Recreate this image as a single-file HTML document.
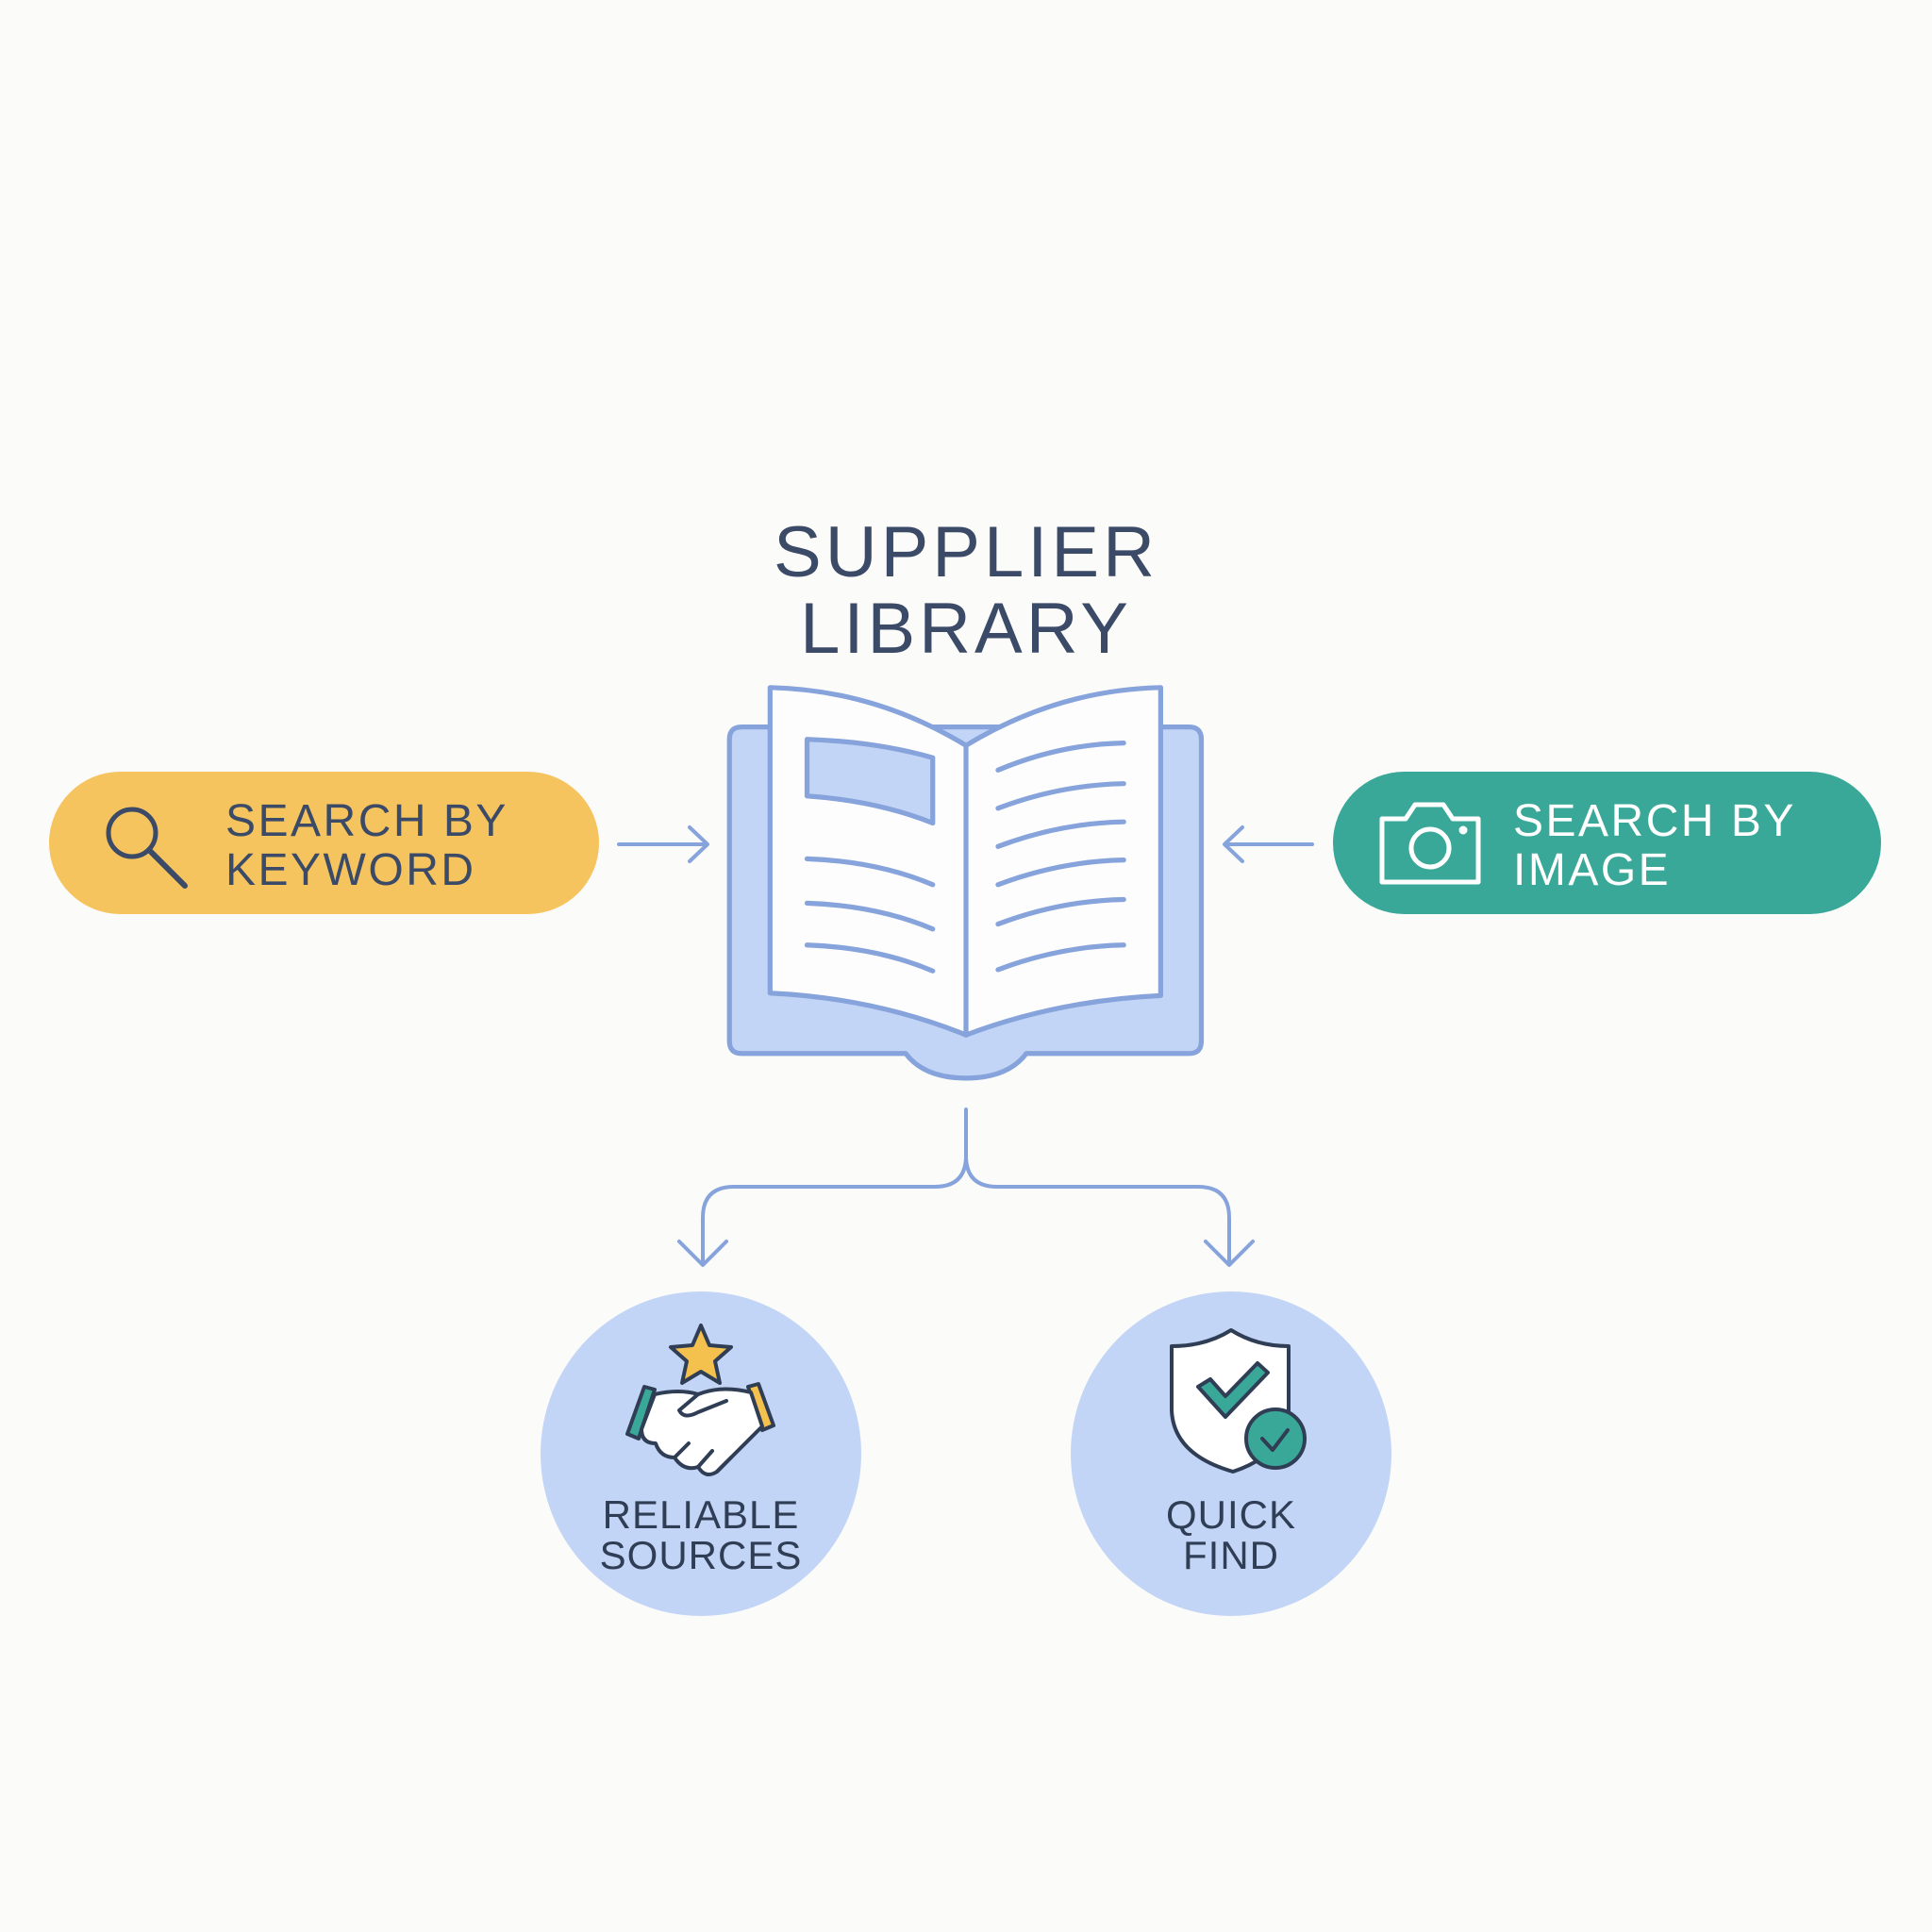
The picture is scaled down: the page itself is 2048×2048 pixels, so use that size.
<!DOCTYPE html>
<html><head><meta charset="utf-8"><style>
html,body{margin:0;padding:0;background:#fbfbf9;}
svg{display:block}
text{font-family:"Liberation Sans",sans-serif;}
</style></head><body>
<svg width="2048" height="2048" viewBox="0 0 2048 2048" xmlns="http://www.w3.org/2000/svg">
<rect width="2048" height="2048" fill="#fbfbf9"/>
<!-- title -->
<text x="1024" y="611" font-size="76" fill="#3b4a66" text-anchor="middle" letter-spacing="4">SUPPLIER</text>
<text x="1024" y="692" font-size="76" fill="#3b4a66" text-anchor="middle" letter-spacing="4">LIBRARY</text>

<!-- book (authored in 1568 display coords) -->
<g transform="scale(1.306122)" stroke="#86a3dc" stroke-width="4" stroke-linejoin="round" stroke-linecap="round">
<path d="M602 590 H965 Q975 590 975 600 V845 Q975 855 965 855 H833 Q818 875 784 875 Q750 875 735 855 H602 Q592 855 592 845 V600 Q592 590 602 590 Z" fill="#c3d5f6"/>
<path d="M625 558 Q710 560 784 605 Q858 560 942 558 V808 Q858 812 784 840 Q710 810 625 806 Z" fill="#fdfdfd"/>
<path d="M784 605 V840" fill="none"/>
<path d="M655 600 Q712 602 757 615 V668 Q712 650 655 646 Z" fill="#c3d5f6"/>
<g fill="none" stroke-width="4">
<path d="M655 697 Q712 699 757 718"/>
<path d="M655 733 Q712 735 757 754"/>
<path d="M655 767 Q712 769 757 788"/>
<path d="M810 625 Q860 604 912 603"/>
<path d="M810 656 Q860 637 912 636"/>
<path d="M810 687 Q860 668 912 667"/>
<path d="M810 718 Q860 699 912 698"/>
<path d="M810 750 Q860 731 912 730"/>
<path d="M810 787 Q860 768 912 767"/>
</g>
</g>

<!-- left pill -->
<rect x="52" y="818" width="583" height="151" rx="75.5" fill="#f6c45e"/>
<circle cx="140" cy="883" r="25" fill="none" stroke="#3b4a66" stroke-width="5"/>
<line x1="158" y1="901" x2="196" y2="939" stroke="#3b4a66" stroke-width="6" stroke-linecap="round"/>
<text x="239" y="886" font-size="48" fill="#3b4a66" letter-spacing="2.5">SEARCH BY</text>
<text x="239" y="938" font-size="48" fill="#3b4a66" letter-spacing="2.5">KEYWORD</text>

<!-- right pill -->
<rect x="1413" y="818" width="581" height="151" rx="75.5" fill="#3aa898"/>
<g fill="none" stroke="#ffffff" stroke-width="5" stroke-linejoin="round">
<path d="M1465 868 H1490 L1500 853 H1530 L1540 868 H1567 V935 H1465 Z"/>
<circle cx="1516" cy="899" r="20"/>
<circle cx="1551" cy="880" r="2" fill="#fff"/>
</g>
<text x="1604" y="886" font-size="48" fill="#ffffff" letter-spacing="2.5">SEARCH BY</text>
<text x="1604" y="938" font-size="48" fill="#ffffff" letter-spacing="2.5">IMAGE</text>

<!-- arrows -->
<g fill="none" stroke="#86a3dc" stroke-width="4" stroke-linecap="round" stroke-linejoin="round">
<path d="M656 895 H749 M731 877 L750 895 L731 913"/>
<path d="M1391 895 H1299 M1317 877 L1298 895 L1317 913"/>
<path d="M1024 1176 V1225 Q1024 1258 991 1258 H778 Q745 1258 745 1291 V1340"/>
<path d="M1024 1225 Q1024 1258 1057 1258 H1270 Q1303 1258 1303 1291 V1340"/>
<path d="M720 1316 L745 1341 L770 1316"/>
<path d="M1278 1316 L1303 1341 L1328 1316"/>
</g>

<!-- circles -->
<ellipse cx="743" cy="1541" rx="170" ry="172" fill="#c3d5f6"/>
<ellipse cx="1305" cy="1541" rx="170" ry="172" fill="#c3d5f6"/>

<!-- star -->
<polygon points="743,1405 752,1426 775,1428 758,1443 763,1466 743,1454 723,1466 728,1443 711,1428 734,1426" fill="#f4c04e" stroke="#2f3d55" stroke-width="4" stroke-linejoin="round"/>
<!-- handshake -->
<g stroke="#2f3d55" stroke-width="4" stroke-linejoin="round" stroke-linecap="round">
<polygon points="683,1470 694,1473 677,1525 665,1520" fill="#3aa898"/>
<polygon points="793,1470 804,1467 820,1511 808,1516" fill="#f4c04e"/>
<path d="M694 1478 Q720 1472 740 1478 Q765 1468 796 1476 L808 1512 Q790 1530 775 1545 L760 1560 Q748 1568 740 1555 Q725 1560 715 1545 Q700 1545 695 1530 Q680 1530 680 1515 Z" fill="#ffffff"/>
<path d="M740 1478 L720 1495 Q725 1505 740 1497 L770 1485" fill="none"/>
<path d="M715 1545 L730 1530 M740 1555 L755 1538 M760 1560 L775 1545" fill="none"/>
</g>
<!-- shield -->
<g stroke="#2f3d55" stroke-width="4" stroke-linejoin="round" stroke-linecap="round">
<path d="M1305 1410 Q1332 1427 1366 1427 V1495 Q1362 1542 1307 1560 Q1244 1542 1242 1495 V1427 Q1278 1427 1305 1410 Z" fill="#ffffff"/>
<polygon points="1270,1470 1283,1462 1299,1480 1333,1445 1344,1455 1299,1502" fill="#3aa898"/>
<circle cx="1352" cy="1525" r="31" fill="#3aa898"/>
<path d="M1338 1525 L1349 1537 L1365 1516" fill="none"/>
</g>

<!-- circle labels -->
<text x="743" y="1620" font-size="42" fill="#2f3d55" text-anchor="middle" letter-spacing="1">RELIABLE</text>
<text x="743" y="1663" font-size="42" fill="#2f3d55" text-anchor="middle" letter-spacing="1">SOURCES</text>
<text x="1305" y="1620" font-size="42" fill="#2f3d55" text-anchor="middle" letter-spacing="1">QUICK</text>
<text x="1305" y="1663" font-size="42" fill="#2f3d55" text-anchor="middle" letter-spacing="1">FIND</text>
</svg>
</body></html>
